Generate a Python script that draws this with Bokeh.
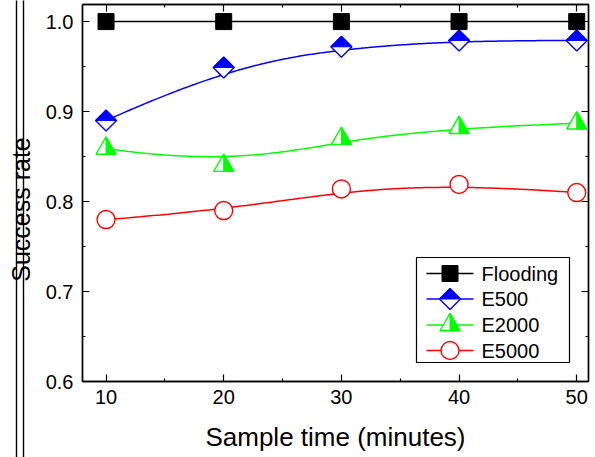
import numpy as np
from bokeh.plotting import figure
from bokeh.layouts import row
from bokeh.models import Range1d, LinearAxis, FixedTicker, PrintfTickFormatter, CustomJSTickFormatter
from bokeh.core.properties import value
from bokeh.embed import file_html
from bokeh.resources import INLINE

# ---------------- data ----------------
sample_time = [10, 20, 30, 40, 50]
flooding = [1.000, 1.000, 1.000, 1.000, 1.000]
e500 = [0.890, 0.949, 0.972, 0.979, 0.979]
e2000 = [0.859, 0.840, 0.870, 0.882, 0.887]
e5000 = [0.780, 0.790, 0.814, 0.819, 0.810]
series_names = ["Flooding", "E500", "E2000", "E5000"]
x_ticks = [10, 20, 30, 40, 50]
x_minor = [15, 25, 35, 45]
y_ticks = [0.6, 0.7, 0.8, 0.9, 1.0]
y_minor = [0.65, 0.75, 0.85, 0.95]
x_title = "Sample time (minutes)"
y_title = "Success rate"

FONT = "Liberation Sans"
X0, X1 = 8.0, 51.0
Y0, Y1 = 0.6, 1.019
FW, FH = 506, 377
SX = FW / (X1 - X0)
SY = FH / (Y1 - Y0)


def bspline(xs, ys, n=240, k=3):
    P = np.column_stack([xs, ys]).astype(float)
    m = len(P)
    knots = np.concatenate([[0] * k, np.arange(m - k + 1), [m - k] * k]).astype(float)
    out = []
    for t in np.linspace(0, m - k, n):
        s = m - 1 if t >= knots[m] else int(np.searchsorted(knots, t, side="right") - 1)
        d = [P[j + s - k].copy() for j in range(k + 1)]
        for r in range(1, k + 1):
            for j in range(k, r - 1, -1):
                i = j + s - k
                den = knots[i + k + 1 - r] - knots[i]
                a = 0.0 if den == 0 else (t - knots[i]) / den
                d[j] = (1 - a) * d[j - 1] + a * d[j]
        out.append(d[k])
    out = np.array(out)
    return out[:, 0], out[:, 1]


def px2x(px):
    return X0 + (px - 82) / SX


def px2y(py):
    return Y1 - (py - 4) / SY


# ---------------- left strip (double rule + y title) ----------------
left = figure(width=40, height=457, x_range=Range1d(0, 40), y_range=Range1d(0, 457),
              x_axis_type=None, y_axis_type=None, toolbar_location=None,
              output_backend="svg", min_border=0, outline_line_color=None)
left.frame_align = False
left.grid.visible = False
left.segment(x0=[16, 23], y0=[-20, -20], x1=[16, 23], y1=[480, 480], line_color="black", line_width=1.4)
left.text(x=[20], y=[248], text=[y_title], angle=np.pi / 2, text_align="center",
          text_baseline="middle", text_font=value(FONT), text_font_size="25px", text_color="black")

# ---------------- main plot ----------------
p = figure(width=555, height=457, x_range=Range1d(X0, X1), y_range=Range1d(Y0, Y1),
           toolbar_location=None, output_backend="svg",
           min_border_left=42, min_border_right=7, min_border_top=4, min_border_bottom=76,
           outline_line_color="black", outline_line_width=1.4)
p.frame_align = False
p.grid.visible = False

xt = FixedTicker(ticks=x_ticks, minor_ticks=x_minor)
yt = FixedTicker(ticks=y_ticks, minor_ticks=y_minor)

for ax in (p.xaxis[0], p.yaxis[0]):
    ax.major_tick_in = 7
    ax.major_tick_out = 0
    ax.minor_tick_in = 3
    ax.minor_tick_out = 0
    ax.axis_line_width = 1.4
    ax.major_tick_line_width = 1.2
    ax.minor_tick_line_width = 1.2
    ax.major_label_text_font = FONT
    ax.major_label_text_font_size = "20px"
    ax.major_label_text_color = "black"
    ax.axis_label_text_font = FONT
    ax.axis_label_text_font_size = "26px"
    ax.axis_label_text_font_style = "normal"
    ax.axis_label_text_color = "black"

p.xaxis[0].ticker = xt
p.yaxis[0].ticker = yt
p.xaxis[0].axis_label = x_title
p.xaxis[0].major_label_standoff = 8
p.xaxis[0].axis_label_standoff = 15
p.yaxis[0].formatter = PrintfTickFormatter(format="%.1f")
p.yaxis[0].major_label_standoff = 9

for loc, tk in (("above", xt), ("right", yt)):
    ax = LinearAxis(ticker=tk, formatter=CustomJSTickFormatter(code="return ''"),
                    major_tick_in=7, major_tick_out=0, minor_tick_in=3, minor_tick_out=0,
                    major_label_standoff=0, major_label_text_font_size="1px",
                    axis_line_width=1.4, major_tick_line_width=1.2, minor_tick_line_width=1.2)
    p.add_layout(ax, loc)

colors = ["black", "#0000ff", "#00ff00", "#ff0000"]
series = [flooding, e500, e2000, e5000]

# smooth connecting lines
for ys, c in zip(series, colors):
    bx, by = bspline(sample_time, ys)
    p.line(bx, by, line_color=c, line_width=1.5)

# marker geometry (pixels)
DIA_R = 10.5          # half diagonal of diamond
TRI_R = 10.0          # half base of triangle
TRI_H = TRI_R * np.sqrt(3)


def diamond_top(xs, ys):
    dx, dy = DIA_R / SX, DIA_R / SY
    return ([[x - dx, x + dx, x] for x in xs], [[y, y, y + dy] for y in ys])


def triangle_right(xs, ys):
    dx = TRI_R / SX
    up, dn = 2 * TRI_H / 3 / SY, TRI_H / 3 / SY
    return ([[x, x + dx, x] for x in xs], [[y + up, y - dn, y - dn] for y in ys])


def draw_markers(fig, xs, ys_list):
    f, d, t, c = ys_list
    fig.scatter(xs, f, marker="square", size=16, fill_color="black", line_color="black", line_width=1)
    fig.scatter(xs, d, marker="square", angle=np.pi / 4, size=DIA_R * np.sqrt(2),
                fill_color="white", line_color="#0000ff", line_width=1.4)
    px_, py_ = diamond_top(xs, d)
    fig.patches(px_, py_, fill_color="#0000ff", line_color="#0000ff", line_width=1)
    fig.scatter(xs, t, marker="triangle", size=2 * TRI_R,
                fill_color="white", line_color="#00ff00", line_width=1.4)
    px_, py_ = triangle_right(xs, t)
    fig.patches(px_, py_, fill_color="#00ff00", line_color="#00ff00", line_width=1)
    fig.scatter(xs, c, marker="circle", size=18, fill_color="white", line_color="#ff0000", line_width=1.4)


draw_markers(p, sample_time, series)

# ---------------- legend (drawn manually) ----------------
p.quad(left=[px2x(416)], right=[px2x(569)], top=[px2y(257)], bottom=[px2y(362)],
       fill_color="white", line_color="black", line_width=1.2)
rows_px = [273, 298.5, 324.5, 350]
lx0, lx1, lm, lt = px2x(426), px2x(473), px2x(449.5), px2x(481)
ly = [px2y(r) for r in rows_px]
for yv, c in zip(ly, colors):
    p.line([lx0, lx1], [yv, yv], line_color=c, line_width=1.5)
draw_markers(p, [lm], [[ly[0]], [ly[1]], [ly[2]], [ly[3]]])
p.text(x=[lt] * 4, y=ly, text=series_names, text_align="left", text_baseline="middle",
       text_font=value(FONT), text_font_size="20px", text_color="black")

layout = row(left, p, spacing=0)

with open("out.html", "w") as fh:
    fh.write(file_html(layout, INLINE))
